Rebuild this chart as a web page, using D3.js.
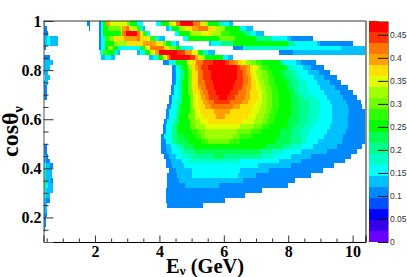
<!DOCTYPE html>
<html>
<head>
<meta charset="utf-8">
<script src="https://cdn.jsdelivr.net/npm/d3@7"></script>
<style>
  html, body { margin: 0; background: #fff; }
  svg { display: block; }
  .big text, .lab { font-family: "Liberation Serif", serif; font-weight: bold; fill: #000; }
  .pal text { font-family: "Liberation Sans", sans-serif; fill: #333; }
</style>
</head>
<body>
<div id="chart"></div>
<script>
// colour bands of the palette, lowest first
const bandColors = ["#6a00ff", "#3300e8", "#0000ff", "#0050ff", "#0088ff", "#00c0ff", "#00ffff", "#00ffc8", "#00ff90", "#00ff50",
  "#00ff00", "#30ff00", "#70ff00", "#a0ff00", "#e0ff00", "#ffe000", "#ffa000", "#ff7700", "#ff3300", "#ff0000"];
const zMax = 0.48;
const rowStep = 0.02; // cos bin width
const xMajor = [2, 4, 6, 8, 10];
const xMinor = [0.5, 1, 1.5, 2.5, 3, 3.5, 4.5, 5, 5.5, 6.5, 7, 7.5, 8.5, 9, 9.5];
const yMajor = [0.2, 0.4, 0.6, 0.8, 1];
const yMinor = [0.15, 0.25, 0.3, 0.35, 0.45, 0.5, 0.55, 0.65, 0.7, 0.75, 0.85, 0.9, 0.95];
const zTicks = [0, 0.05, 0.1, 0.15, 0.2, 0.25, 0.3, 0.35, 0.4, 0.45];

// one list per cos row, from cos = 1 going down.
// each is E, band, E, band, E ... (band -1 = empty)
const heatRows = [
  [.4,5,.45,-1,1.75,4,1.85,-1,2.13,4,2.2,6,2.25,10,2.35,16,2.45,14,3.0,12,3.1,10,3.3,6,3.5,-1,3.9,6,4.05,10,4.3,14,4.5,17,4.65,19,5.05,17,5.25,15,5.4,13,5.5,10,5.85,7,6.0,6,6.15,5,6.3],
  [.4,4,.5,-1,1.8,4,1.85,-1,2.13,4,2.2,6,2.25,10,2.4,12,2.8,14,2.85,16,2.95,17,3.05,15,3.15,13,3.3,11,3.4,7,3.5,5,3.55,-1,4.2,5,4.3,6,4.4,10,4.6,13,4.8,15,5.0,16,5.2,17,5.5,15,5.75,13,6.05,10,6.5,6,6.7,5,6.9],
  [.4,4,.55,-1,2.13,4,2.2,6,2.25,10,2.8,14,2.85,17,2.95,19,3.3,17,3.4,15,3.5,11,3.6,6,3.7,-1,4.48,6,4.6,10,4.95,13,5.3,14,5.5,15,5.6,13,5.9,11,6.2,10,6.65,8,6.85,6,7.0,5,7.25],
  [.4,5,.5,6,.6,5,.85,-1,2.13,4,2.2,6,2.3,11,2.45,13,2.6,15,2.9,16,3.3,17,3.4,15,3.6,14,3.7,11,3.85,7,4.0,5,4.18,-1,4.72,6,4.9,10,5.85,12,6.35,10,7.0,8,7.5,6,7.95,5,8.1,4,8.78],
  [.4,5,.5,6,.6,5,.85,-1,2.13,4,2.2,6,2.3,10,2.6,13,3.0,15,3.5,16,3.9,15,4.1,12,4.2,10,4.35,6,4.5,5,4.6,-1,5.55,5,5.6,6,5.9,8,6.3,10,8.0,8,8.2,6,8.9,5,9.0,4,10.0],
  [.4,4,.47,-1,2.13,4,2.2,6,2.3,10,2.4,13,2.55,10,2.7,6,3.4,9,3.55,14,3.7,17,4.15,15,4.3,12,4.5,10,4.65,7,4.85,6,5.05,-1,6.3,4,6.6,7,8.0,6,9.65,5,10.4],
  [2.15,6,2.25,11,2.4,10,2.6,7,2.7,5,2.77,-1,3.29,5,3.4,6,3.55,10,3.7,14,3.85,16,4.0,19,4.55,18,4.8,16,5.0,14,5.2,10,5.35,7,5.5,5,5.72,-1,7.7,4,8.15,5,10.4],
  [.4,4,.6,-1,2.2,5,2.3,6,2.5,5,2.62,-1,3.69,5,3.8,6,3.95,10,4.1,14,4.25,16,4.3,18,4.35,19,4.95,18,5.1,16,5.2,15,5.3,13,5.4,10,5.98,6,6.14,5,6.3],
  [.4,5,.7,-1,4.1,4,4.3,6,4.4,7,4.5,10,4.85,14,5.0,15,5.15,17,5.35,18,5.65,19,6.05,18,6.15,17,6.35,16,6.45,15,6.55,14,6.7,13,6.8,12,7.0,11,7.2,10,7.75,8,7.85,6,8.25,5,8.4,4,8.85],
  [.4,5,.6,-1,4.4,4,4.5,6,4.6,8,4.7,10,4.9,13,5.0,15,5.1,16,5.2,17,5.3,18,5.5,19,6.4,18,6.5,17,6.7,16,6.8,15,6.9,14,7.05,13,7.1,12,7.2,11,7.4,10,7.9,9,8.0,7,8.2,6,8.45,5,8.7,4,9.1],
  [.4,5,.55,-1,4.4,4,4.5,6,4.65,8,4.75,10,4.9,12,5.0,15,5.2,17,5.35,18,5.6,19,6.4,18,6.6,17,6.7,16,6.8,15,6.9,14,7.0,13,7.2,12,7.35,11,7.5,10,7.75,9,7.95,8,8.15,7,8.3,6,8.6,5,8.95,4,9.3],
  [.45,5,.6,-1,4.4,4,4.5,6,4.65,8,4.75,10,4.9,12,5.0,15,5.2,17,5.35,18,5.6,19,6.4,18,6.6,17,6.75,16,6.85,15,6.95,14,7.05,13,7.2,12,7.4,11,7.55,10,7.85,9,8.05,8,8.2,7,8.4,6,8.8,5,9.1,4,9.5],
  [.4,5,.55,-1,4.4,4,4.5,6,4.6,8,4.7,10,4.9,12,5.0,15,5.2,17,5.4,18,5.65,19,6.35,18,6.6,17,6.75,16,6.85,15,7.0,14,7.1,13,7.25,12,7.4,11,7.6,10,7.95,9,8.1,8,8.3,7,8.55,6,8.9,5,9.3,4,9.65],
  [.4,4,.5,-1,4.35,4,4.45,6,4.6,8,4.7,10,4.9,12,5.0,15,5.2,16,5.3,17,5.45,18,5.7,19,6.3,18,6.55,17,6.7,16,6.85,15,7.0,14,7.15,13,7.3,12,7.45,11,7.65,10,8.0,9,8.15,8,8.35,7,8.6,6,9.0,5,9.45,4,9.85],
  [.4,4,.5,-1,4.35,4,4.45,6,4.6,8,4.7,10,4.9,12,5.05,15,5.25,16,5.35,17,5.5,18,5.75,19,6.2,18,6.45,17,6.7,16,6.8,15,7.05,14,7.2,13,7.3,12,7.5,11,7.7,10,8.05,9,8.2,8,8.35,7,8.65,6,9.1,5,9.6,4,10.0],
  [.4,4,.5,-1,4.3,4,4.4,6,4.6,8,4.7,10,4.95,12,5.05,14,5.2,15,5.3,16,5.4,17,5.55,18,5.85,19,6.1,18,6.35,17,6.65,16,6.8,15,7.05,14,7.2,13,7.35,12,7.5,11,7.7,10,8.1,9,8.3,8,8.5,7,8.85,6,9.2,5,9.7,4,10.15],
  [4.3,4,4.4,6,4.55,8,4.7,10,4.95,12,5.05,14,5.2,15,5.35,16,5.5,17,5.7,18,6.2,17,6.55,16,6.75,15,7.0,14,7.2,13,7.35,12,7.5,11,7.7,10,8.1,9,8.35,8,8.67,7,9.0,6,9.3,5,9.8,4,10.25],
  [4.25,4,4.35,6,4.55,8,4.65,10,4.95,12,5.05,14,5.2,15,5.4,16,5.6,17,6.3,16,6.5,15,6.9,14,7.15,13,7.3,12,7.5,11,7.7,10,8.1,9,8.35,8,8.67,7,9.0,6,9.35,5,9.85,4,10.3],
  [4.2,4,4.3,6,4.5,8,4.65,10,4.95,12,5.1,14,5.25,15,5.7,16,6.2,15,6.85,14,7.1,13,7.3,12,7.45,11,7.65,10,8.1,9,8.35,8,8.65,7,9.0,6,9.35,5,9.9,4,10.4],
  [4.2,4,4.3,6,4.5,8,4.6,10,4.9,12,5.1,14,5.35,15,5.75,16,6.05,15,6.75,14,7.0,13,7.25,12,7.4,11,7.6,10,8.05,9,8.3,8,8.6,7,8.95,6,9.35,5,9.85,4,10.4],
  [4.15,4,4.25,6,4.45,8,4.6,10,4.95,12,5.1,13,5.25,14,5.5,15,6.6,14,6.95,13,7.2,12,7.35,11,7.55,10,8.0,9,8.3,8,8.6,7,8.9,6,9.35,5,9.85,4,10.4],
  [4.1,4,4.2,6,4.4,8,4.55,10,4.95,12,5.15,13,5.4,14,6.5,13,6.95,12,7.2,11,7.4,10,7.95,9,8.2,8,8.5,7,8.8,6,9.3,5,9.85,4,10.4],
  [4.1,4,4.2,6,4.4,8,4.55,10,5.0,11,5.2,12,5.4,13,6.4,12,6.85,11,7.15,10,7.75,9,8.1,8,8.35,7,8.65,6,9.2,5,9.8,4,10.4],
  [4.05,4,4.15,6,4.35,8,4.5,9,4.75,10,5.1,11,5.3,12,5.4,13,6.3,12,6.5,11,6.9,10,7.7,9,8.1,8,8.4,7,8.6,6,9.1,5,9.7,4,10.4],
  [4.05,4,4.2,6,4.4,8,4.55,9,4.9,10,5.3,11,5.5,12,6.2,11,6.5,10,7.6,9,8.05,8,8.4,7,8.55,6,8.93,5,9.66,4,10.4],
  [.4,4,.5,-1,4.05,4,4.2,5,4.35,6,4.5,7,4.65,8,4.75,9,5.05,10,7.3,9,7.8,8,8.1,7,8.4,6,8.78,5,9.5,4,10.3],
  [.4,4,.5,-1,4.05,4,4.25,5,4.4,6,4.6,7,4.8,8,5.1,9,7.1,8,7.5,7,7.85,6,8.4,5,9.2,4,10.13],
  [.4,5,.47,4,.55,-1,4.15,4,4.3,5,4.5,6,4.7,7,5.0,8,5.7,9,6.0,8,7.2,7,7.55,6,8.1,5,8.7,4,9.95],
  [.4,5,.47,4,.6,-1,4.2,4,4.35,5,4.7,6,4.9,7,6.5,6,7.7,5,8.4,4,9.76],
  [.4,6,.47,5,.6,4,.68,-1,4.2,4,4.4,5,4.75,6,7.05,5,8.1,4,9.42],
  [.4,7,.47,5,.65,-1,4.3,4,4.5,5,5.0,6,6.5,5,7.4,4,9.08],
  [.4,7,.47,5,.65,-1,4.25,4,4.55,5,5.0,6,6.45,5,7.0,4,8.7],
  [.4,8,.47,5,.62,4,.68,-1,4.25,4,4.6,5,6.6,4,8.2],
  [.4,8,.47,6,.55,5,.68,-1,4.25,4,4.8,5,5.85,4,8.0],
  [.4,7,.47,5,.68,-1,4.2,4,7.2],
  [.4,6,.47,5,.6,-1,4.2,4,6.65],
  [.4,5,.47,4,.6,-1,4.2,4,6.05],
  [.4,5,.5,-1,4.25,4,5.35],
  [.4,5,.5],
  [.4,4,.5],
  [.4,4,.47],
  [.4,4,.47],
  [.4,4,.45]
];

const width = 407, height = 277;
const plot = { left: 43.5, right: 365.5, top: 21, bottom: 242 };

const x = d3.scaleLinear().domain([0.4, 10.4]).range([plot.left, plot.right]);
const y = d3.scaleLinear().domain([0.1, 1]).range([plot.bottom, plot.top]);
const zBar = d3.scaleLinear().domain([0, zMax]).range([plot.bottom, plot.top]);
const color = d3.scaleQuantize().domain([0, zMax]).range(bandColors);
const bandZ = (b) => ((b + 0.5) * zMax) / bandColors.length;

const svg = d3.select("#chart").append("svg").attr("width", width).attr("height", height);

// unpack the runs into cells
const cells = [];
heatRows.forEach((row, i) => {
  for (let k = 0; k + 2 < row.length; k += 2) {
    if (row[k + 1] >= 0) {
      cells.push({ e0: row[k], e1: row[k + 2], cos: 1 - i * rowStep, z: bandZ(row[k + 1]) });
    }
  }
});

svg.append("g").attr("shape-rendering", "crispEdges")
  .selectAll("rect").data(cells).join("rect")
  .attr("x", (d) => x(d.e0))
  .attr("y", (d) => y(d.cos))
  .attr("width", (d) => x(d.e1) - x(d.e0))
  .attr("height", (d) => y(d.cos - rowStep) - y(d.cos))
  .attr("fill", (d) => color(d.z));

// frame: top and right are drawn lighter than the axes
svg.append("line").attr("x1", plot.left).attr("x2", plot.right + 1).attr("y1", plot.top).attr("y2", plot.top)
  .attr("stroke", "#333").attr("stroke-width", 1);
svg.append("line").attr("x1", plot.right + 0.5).attr("x2", plot.right + 0.5).attr("y1", plot.top).attr("y2", plot.bottom)
  .attr("stroke", "#8a8a8a").attr("stroke-width", 2);

// x axis
const xAxis = svg.append("g").attr("class", "big").attr("transform", `translate(0,${plot.bottom})`)
  .call(d3.axisBottom(x).tickValues(xMajor).tickSize(-6.5).tickPadding(4).tickFormat(d3.format("d")));
xAxis.selectAll("text").attr("font-size", 16);
svg.append("g").attr("transform", `translate(0,${plot.bottom})`)
  .call(d3.axisBottom(x).tickValues(xMinor).tickSize(-3.5).tickFormat(""))
  .select(".domain").remove();

// y axis
const yAxis = svg.append("g").attr("class", "big").attr("transform", `translate(${plot.left},0)`)
  .call(d3.axisLeft(y).tickValues(yMajor).tickSize(-10).tickPadding(2).tickFormat((d) => (d === 1 ? "1" : d3.format(".1f")(d))));
yAxis.selectAll("text").attr("font-size", 16);
yAxis.select(".domain").attr("stroke", "#555");
svg.append("g").attr("transform", `translate(${plot.left},0)`)
  .call(d3.axisLeft(y).tickValues(yMinor).tickSize(-5).tickFormat(""))
  .select(".domain").remove();
svg.selectAll("g.tick line").attr("stroke", "#333");

// titles
const xTitle = svg.append("text").attr("class", "lab").attr("x", 166).attr("y", 273).attr("font-size", 20.5);
xTitle.append("tspan").text("E");
xTitle.append("tspan").attr("font-size", 13).attr("dy", 2).text("ν");
xTitle.append("tspan").attr("dy", -2).text(" (GeV)");

const yTitle = svg.append("text").attr("class", "lab")
  .attr("transform", "translate(18,157) rotate(-90)").attr("font-size", 24);
yTitle.append("tspan").text("cosθ");
yTitle.append("tspan").attr("font-size", 14).attr("dy", 5).text("ν");

// palette
const barX = 369, barW = 19;
svg.append("g").attr("shape-rendering", "crispEdges")
  .selectAll("rect").data(bandColors).join("rect")
  .attr("x", barX)
  .attr("y", (d, i) => zBar(((i + 1) * zMax) / bandColors.length))
  .attr("width", barW)
  .attr("height", (d, i) => zBar((i * zMax) / bandColors.length) - zBar(((i + 1) * zMax) / bandColors.length))
  .attr("fill", (d) => d);

const zAxis = svg.append("g").attr("class", "pal").attr("transform", `translate(${barX + barW},0)`)
  .call(d3.axisRight(zBar).tickValues(zTicks).tickSize(-10).tickPadding(2).tickFormat((d) => String(d)));
zAxis.selectAll("text").attr("font-size", 8.5).attr("x", 2);
zAxis.select(".domain").attr("stroke", "#8a8a8a");
zAxis.selectAll(".tick line").attr("stroke", "#111");
</script>
</body>
</html>
